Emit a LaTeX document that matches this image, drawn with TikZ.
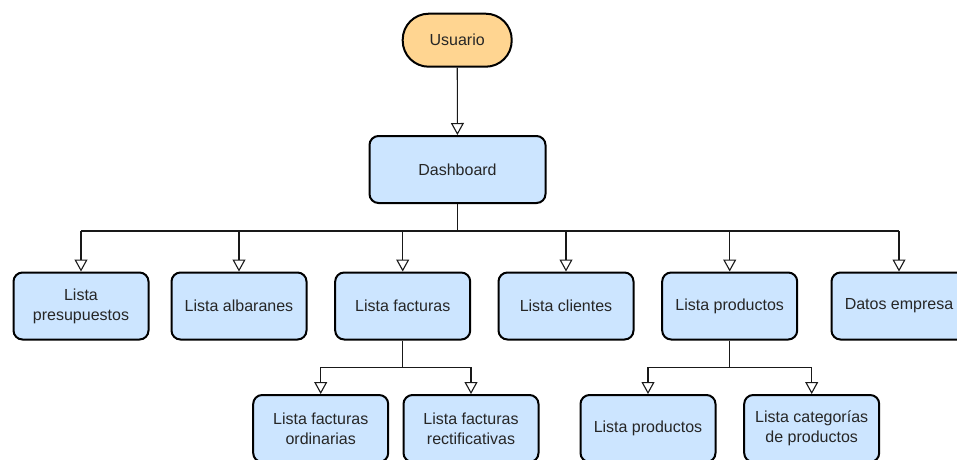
\documentclass[tikz,border=0pt]{standalone}
\usepackage{fontspec}
\setmainfont{Liberation Sans}
\usetikzlibrary{arrows.meta}
\definecolor{boxblue}{HTML}{CCE5FF}
\definecolor{boxorange}{HTML}{FFD591}
\definecolor{txt}{HTML}{262626}
\tikzset{
  box/.style={draw=black, line width=2pt, fill=boxblue, rounded corners=9pt,
    minimum width=135pt, minimum height=67pt, inner sep=2pt, align=center,
    text=txt, font=\fontsize{16}{20}\selectfont},
  term/.style={draw=black, line width=2pt, fill=boxorange, rounded corners=26pt,
    minimum width=109pt, minimum height=53pt, inner sep=2pt,
    text=txt, font=\fontsize{16}{20}\selectfont},
  wire/.style={line width=1.1pt, draw=black!90},
  conn/.style={wire,
    -{Triangle[open, width=13pt, length=12pt, line width=1.1pt]}}
}
\begin{document}
\begin{tikzpicture}[x=1pt, y=-1pt]
\useasboundingbox (0,0) rectangle (957,459);
\clip (0,0) rectangle (957,459);
\node[term] (usr) at (457.2,40.2) {Usuario};
\node[box, minimum width=176pt] (dash) at (457.5,169.5) {Dashboard};
\node[box] (pres) at (81,306) {Lista\\presupuestos};
\node[box] (alb) at (239,306) {Lista albaranes};
\node[box] (fact) at (402.7,306) {Lista facturas};
\node[box] (cli) at (566,306) {Lista clientes};
\node[box] (prod) at (729.7,306) {Lista productos};
\node[box] (datos) at (899,306) {Datos empresa};
\node[box] (ord) at (320.7,428.5) {Lista facturas\\ordinarias};
\node[box] (rect) at (471,428.5) {Lista facturas\\rectificativas};
\node[box] (lp) at (648,428.5) {Lista productos};
\node[box] (cat) at (811.7,428.5) {Lista categorías\\de productos};
\coordinate (bus) at (457.5,231);
\coordinate (fbus) at (402.7,367.3);
\coordinate (pbus) at (729.7,367.3);
\draw[conn] (usr) -- (dash);
\draw[wire] (dash.south) -- (bus);
\draw[wire] (pres.north |- bus) -- (datos.north |- bus);
\foreach \n in {pres,alb,fact,cli,prod,datos}
  \draw[conn] (\n.north |- bus) -- (\n.north);
\draw[wire] (fact.south) -- (fbus);
\draw[wire] (ord.north |- fbus) -- (rect.north |- fbus);
\foreach \n in {ord,rect}
  \draw[conn] (\n.north |- fbus) -- (\n.north);
\draw[wire] (prod.south) -- (pbus);
\draw[wire] (lp.north |- pbus) -- (cat.north |- pbus);
\foreach \n in {lp,cat}
  \draw[conn] (\n.north |- pbus) -- (\n.north);
\end{tikzpicture}
\end{document}
